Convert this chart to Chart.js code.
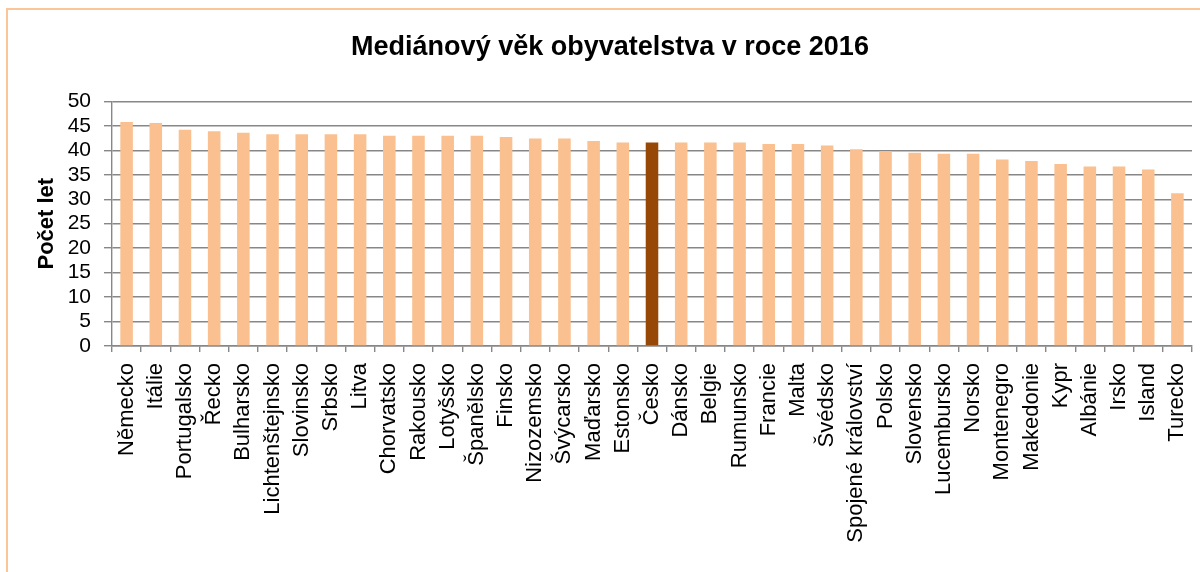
<!DOCTYPE html>
<html>
<head>
<meta charset="utf-8">
<script src="https://cdn.jsdelivr.net/npm/chart.js@4"></script>
<style>
  html, body { margin: 0; padding: 0; background: #fff; overflow: hidden; }
  #wrap { position: absolute; left: 0; top: 0; width: 1200px; height: 572px; }
  #frame { position: absolute; left: 6px; top: 8px; width: 1400px; height: 800px; border: 2px solid #fbc59a; }
</style>
</head>
<body>
<div id="frame"></div>
<div id="wrap"><canvas id="chart"></canvas></div>
<script>
const countries = ["Německo", "Itálie", "Portugalsko", "Řecko", "Bulharsko", "Lichtenštejnsko", "Slovinsko", "Srbsko", "Litva", "Chorvatsko", "Rakousko", "Lotyšsko", "Španělsko", "Finsko", "Nizozemsko", "Švýcarsko", "Maďarsko", "Estonsko", "Česko", "Dánsko", "Belgie", "Rumunsko", "Francie", "Malta", "Švédsko", "Spojené království", "Polsko", "Slovensko", "Lucembursko", "Norsko", "Montenegro", "Makedonie", "Kypr", "Albánie", "Irsko", "Island", "Turecko"];
const medianAge = [45.8, 45.6, 44.2, 43.9, 43.6, 43.3, 43.3, 43.3, 43.3, 43.0, 43.0, 43.0, 43.0, 42.7, 42.4, 42.4, 41.9, 41.6, 41.6, 41.6, 41.6, 41.6, 41.3, 41.3, 41.0, 40.2, 39.8, 39.5, 39.3, 39.3, 38.1, 37.8, 37.2, 36.7, 36.7, 36.1, 31.2];
const highlight = "Česko";

const light = "#fac090";
const dark = "#974706";
const gridColor = "#878787";
const font = "'Liberation Sans', Arial, sans-serif";

const barColors = countries.map(c => c === highlight ? dark : light);

new Chart(document.getElementById("chart"), {
    type: "bar",
    data: {
        labels: countries,
        datasets: [{
            data: medianAge,
            backgroundColor: barColors,
            borderWidth: 0,
            categoryPercentage: 1,
            barPercentage: 0.43
        }]
    },
    options: {
        responsive: true,
        maintainAspectRatio: false,
        animation: false,
        layout: {
            padding: {top: 0, left: 28, right: 8, bottom: 0}
        },
        plugins: {
            legend: {display: false},
            tooltip: {enabled: false},
            title: {
                display: true,
                text: "Mediánový věk obyvatelstva v roce 2016",
                color: "#000",
                font: {family: font, size: 27, weight: "bold"},
                padding: {top: 31, bottom: 38}
            }
        },
        scales: {
            x: {
                grid: {
                    display: true,
                    drawOnChartArea: false,
                    color: gridColor,
                    lineWidth: 1.4,
                    tickLength: 6,
                    offset: true
                },
                border: {color: gridColor, width: 1.4},
                ticks: {
                    autoSkip: false,
                    maxRotation: 90,
                    minRotation: 90,
                    color: "#000",
                    padding: 11,
                    font: {family: font, size: 22}
                },
                afterFit: s => {
                    s.height = 226;
                    s.paddingLeft = 0;
                    s.paddingRight = 0;
                }
            },
            y: {
                min: 0,
                max: 50,
                ticks: {
                    stepSize: 5,
                    autoSkip: false,
                    color: "#000",
                    padding: 13,
                    font: {family: font, size: 21}
                },
                grid: {
                    color: gridColor,
                    lineWidth: 1.4,
                    tickLength: 8
                },
                border: {color: gridColor, width: 1.4},
                title: {
                    display: true,
                    text: "Počet let",
                    color: "#000",
                    padding: {top: 6, bottom: 0},
                    font: {family: font, size: 22, weight: "bold"}
                },
                afterFit: s => { s.width = 84; }
            }
        }
    }
});
</script>
</body>
</html>
